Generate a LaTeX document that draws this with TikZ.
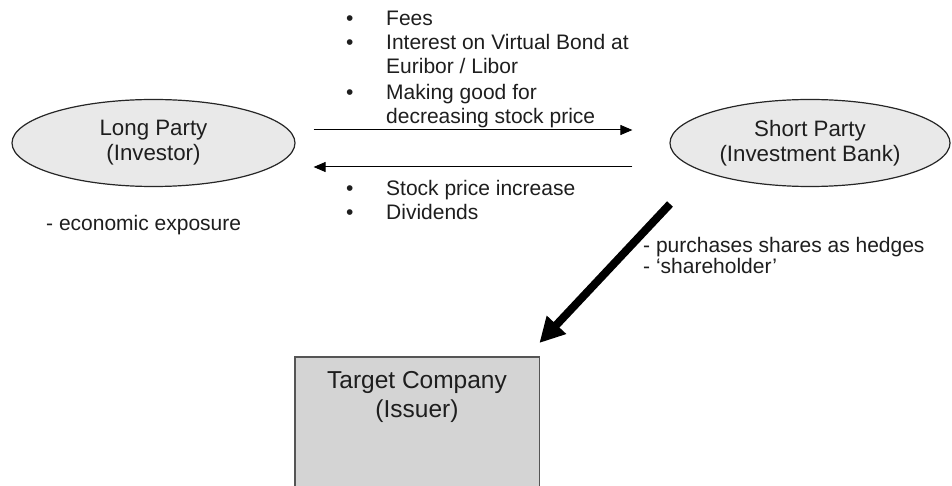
\documentclass[tikz,border=0pt]{standalone}
\usepackage{fontspec}
\setmainfont{Liberation Sans}
\usetikzlibrary{shapes.geometric,arrows.meta}
\definecolor{txt}{HTML}{1E1E1E}
\definecolor{ellfill}{HTML}{E9E9E9}
\definecolor{boxfill}{HTML}{D4D4D4}
\definecolor{boxline}{HTML}{555555}
\tikzset{
  base/.style={text=txt, inner sep=0pt, font=\fontsize{21}{25}\selectfont},
  party/.style={base, ellipse, draw=black!85, fill=ellfill, line width=1.2pt, align=center, font=\fontsize{22.3}{25}\selectfont},
  thinarrow/.style={line width=1pt, -{Triangle[length=12pt,width=10pt]}},
  thickarrow/.style={line width=8pt, -{Triangle[length=25pt,width=25pt]}},
  lbl/.style={base, anchor=base west},
}
\begin{document}
\begin{tikzpicture}[x=1pt,y=-1pt]
\useasboundingbox (0,0) rectangle (952,486);
\fill[white] (0,0) rectangle (952,486);

\node[party, minimum width=283pt, minimum height=87pt] (lp) at (153.5,143) {Long Party\\(Investor)};
\node[party, minimum width=280pt, minimum height=87pt] (sp) at (810,143) {Short Party\\(Investment Bank)};

\draw[thinarrow] ([xshift=18pt,yshift=13pt]lp.east) -- ([xshift=-37pt,yshift=13pt]sp.west);
\draw[thinarrow] ([xshift=-37pt,yshift=-24pt]sp.west) -- ([xshift=18pt,yshift=-24pt]lp.east);

\node[lbl] (top) at (346,26) {\fontsize{21}{24}\selectfont\begin{tabular}[t]{@{}p{40pt}@{}l@{}}
\textbullet & Fees\\
\textbullet & Interest on Virtual Bond at\\
 & Euribor / Libor\\[2pt]
\textbullet & Making good for\\
 & decreasing stock price
\end{tabular}};

\node[lbl] (bot) at (346,196) {\fontsize{21}{24}\selectfont\begin{tabular}[t]{@{}p{40pt}@{}l@{}}
\textbullet & Stock price increase\\
\textbullet & Dividends
\end{tabular}};

\node[lbl] (econ) at (46,230) {- economic exposure};

\node[lbl] (hedge) at (643,252) {\fontsize{21}{21}\selectfont\begin{tabular}[t]{@{}l@{}}
- purchases shares as hedges\\
- `shareholder'
\end{tabular}};

\node[base, fill=boxfill, minimum width=244pt, minimum height=129pt, anchor=north west] (tc) at (295,357) {};
\draw[boxline, line width=1.2pt] (tc.south west) -- (tc.north west) -- (tc.north east) -- (tc.south east);
\node[base, align=center, anchor=base, font=\fontsize{24.5}{29}\selectfont] (tctext) at (417,417) {Target Company\\(Issuer)};

\coordinate (hs) at (670,204);
\draw[thickarrow] (hs) -- ([yshift=14pt]tc.north east);
\end{tikzpicture}
\end{document}
